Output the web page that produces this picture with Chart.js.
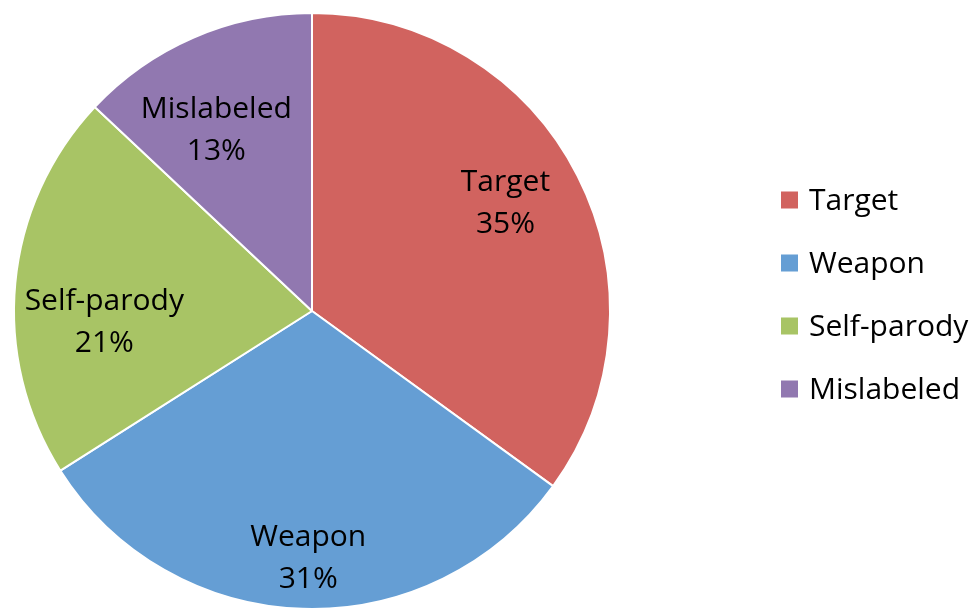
<!DOCTYPE html>
<html>
<head>
<meta charset="utf-8">
<script src="https://cdn.jsdelivr.net/npm/chart.js@4"></script>
<style>
  html, body { margin: 0; padding: 0; background: #fff; }
  #wrap { width: 977px; height: 610px; position: relative; }
</style>
</head>
<body>
<div id="wrap"><canvas id="pie"></canvas></div>
<script>
const categories = ['Target', 'Weapon', 'Self-parody', 'Mislabeled'];
const shares = [35, 31, 21, 13];
const sliceColors = ['#D1635F', '#659ED4', '#A8C465', '#9178B0'];

const FONT = '"Open Sans", sans-serif';

// labels inside the slices: name on one line, percent under it
const sliceLabels = {
  id: 'sliceLabels',
  afterDatasetsDraw(chart, args, opts) {
    const ctx = chart.ctx;
    const meta = chart.getDatasetMeta(0);
    const total = shares.reduce((a, b) => a + b, 0);
    ctx.save();
    ctx.font = opts.size + 'px ' + FONT;
    ctx.fillStyle = '#000';
    ctx.textAlign = 'center';
    ctx.textBaseline = 'middle';
    meta.data.forEach((arc, i) => {
      const mid = (arc.startAngle + arc.endAngle) / 2;
      const r = arc.outerRadius * opts.radius[i];
      const x = arc.x + Math.cos(mid) * r + opts.shift[i][0];
      const y = arc.y + Math.sin(mid) * r + opts.shift[i][1];
      ctx.fillText(categories[i], x, y - opts.gap / 2);
      ctx.fillText(Math.round(shares[i] / total * 100) + '%', x, y + opts.gap / 2);
    });
    ctx.restore();
  }
};

// legend on the right side, square markers
const sideLegend = {
  id: 'sideLegend',
  afterDraw(chart, args, opts) {
    const ctx = chart.ctx;
    ctx.save();
    ctx.font = opts.size + 'px ' + FONT;
    ctx.textBaseline = 'middle';
    categories.forEach((name, i) => {
      const y = opts.top + i * opts.step;
      ctx.fillStyle = sliceColors[i];
      ctx.fillRect(opts.left, y - opts.box / 2, opts.box, opts.box);
      ctx.fillStyle = '#000';
      ctx.fillText(name, opts.left + opts.box + 11, y + 1);
    });
    ctx.restore();
  }
};

new Chart(document.getElementById('pie').getContext('2d'), {
  type: 'pie',
  data: {
    labels: categories,
    datasets: [{
      data: shares,
      backgroundColor: sliceColors,
      borderColor: '#fff',
      borderWidth: 2
    }]
  },
  options: {
    responsive: true,
    maintainAspectRatio: false,
    animation: false,
    layout: { padding: { left: 12, top: 12, bottom: 0, right: 365 } },
    plugins: {
      legend: { display: false },
      tooltip: { enabled: false },
      sliceLabels: {
        size: 30, gap: 42,
        radius: [0.74, 0.83, 0.69, 0.69],
        shift: [[-3, -7], [4, 0], [-3, 31], [-14, 8]]
      },
      sideLegend: { left: 781, top: 200, step: 63, box: 17, size: 30 }
    }
  },
  plugins: [sliceLabels, sideLegend]
});
</script>
</body>
</html>
